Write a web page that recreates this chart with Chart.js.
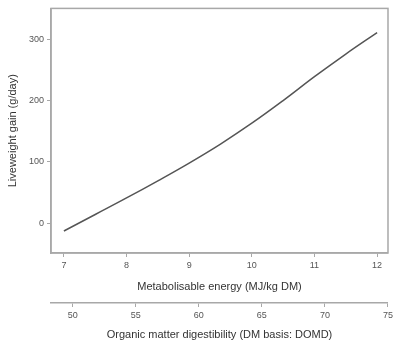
<!DOCTYPE html>
<html>
<head>
<meta charset="utf-8">
<script src="https://cdn.jsdelivr.net/npm/chart.js@4"></script>
<style>
  body { margin: 0; background: #fff; }
  #wrap { width: 396px; height: 347px; }
</style>
</head>
<body>
<div id="wrap"><canvas id="chart"></canvas></div>
<script>
// Liveweight gain vs metabolisable energy
const meValues = [7, 7.5, 8, 8.5, 9, 9.5, 10, 10.5, 11, 11.5, 12];
const gainValues = [-13, 14, 41, 69, 98, 129, 163, 200, 239, 276, 311];

const meTicks = [7, 8, 9, 10, 11, 12];
const domdTicks = [50, 55, 60, 65, 70, 75];
const gainTicks = [0, 100, 200, 300];

const axisGrey = '#a8a8a8';
const textGrey = '#555';

function fixedTicks(list) {
    return function(scale) {
        scale.ticks = list.map(v => ({ value: v }));
    };
}

// рамка вокруг области графика
const frame = {
    id: 'frame',
    afterDraw(chart) {
        const a = chart.chartArea;
        const ctx = chart.ctx;
        ctx.save();
        ctx.strokeStyle = axisGrey;
        ctx.lineWidth = 1.5;
        ctx.strokeRect(a.left, a.top, a.right - a.left, a.bottom - a.top);
        ctx.restore();
    }
};

const ctx = document.getElementById('chart').getContext('2d');
new Chart(ctx, {
    type: 'line',
    data: {
        datasets: [{
            data: meValues.map((x, i) => ({ x: x, y: gainValues[i] })),
            borderColor: '#555',
            borderWidth: 1.5,
            pointRadius: 0,
            tension: 0.4,
            fill: false,
            xAxisID: 'x',
            yAxisID: 'y'
        }]
    },
    options: {
        responsive: true,
        maintainAspectRatio: false,
        animation: false,
        layout: { padding: { left: 0, top: 8, right: 5, bottom: 0 } },
        plugins: {
            legend: { display: false },
            tooltip: { enabled: false }
        },
        scales: {
            x: {
                type: 'linear',
                position: 'bottom',
                min: 6.794,
                max: 12.174,
                afterBuildTicks: fixedTicks(meTicks),
                afterFit: s => { s.height = 50; },
                grid: { drawOnChartArea: false, drawTicks: true, tickLength: 4, color: axisGrey },
                border: { color: axisGrey, width: 1.5 },
                ticks: { color: textGrey, font: { family: 'Liberation Sans', size: 9 }, padding: 3, maxRotation: 0 },
                title: {
                    display: true,
                    text: 'Metabolisable energy (MJ/kg DM)',
                    color: '#333',
                    font: { family: 'Liberation Sans', size: 11 },
                    padding: { top: 0, bottom: 9.4 }
                }
            },
            x2: {
                type: 'linear',
                position: 'bottom',
                min: 48.28,
                max: 75,
                afterBuildTicks: fixedTicks(domdTicks),
                afterFit: s => { s.height = 44; },
                grid: { drawOnChartArea: false, drawTicks: true, tickLength: 4, color: axisGrey },
                border: { color: axisGrey, width: 1.5 },
                ticks: { color: textGrey, font: { family: 'Liberation Sans', size: 9 }, padding: 3, maxRotation: 0 },
                title: {
                    display: true,
                    text: 'Organic matter digestibility (DM basis: DOMD)',
                    color: '#333',
                    font: { family: 'Liberation Sans', size: 11 },
                    padding: { top: 0, bottom: 5.4 }
                }
            },
            y: {
                type: 'linear',
                position: 'left',
                min: -48.9,
                max: 350.5,
                afterBuildTicks: fixedTicks(gainTicks),
                afterFit: s => { s.width = 51; },
                grid: { drawOnChartArea: false, drawTicks: true, tickLength: 4, color: axisGrey },
                border: { color: axisGrey, width: 1.5 },
                ticks: { color: textGrey, font: { family: 'Liberation Sans', size: 9 }, padding: 3 },
                title: {
                    display: true,
                    text: 'Liveweight gain (g/day)',
                    color: '#333',
                    font: { family: 'Liberation Sans', size: 11 },
                    padding: { top: 6, bottom: 0 }
                }
            }
        }
    },
    plugins: [frame]
});
</script>
</body>
</html>
